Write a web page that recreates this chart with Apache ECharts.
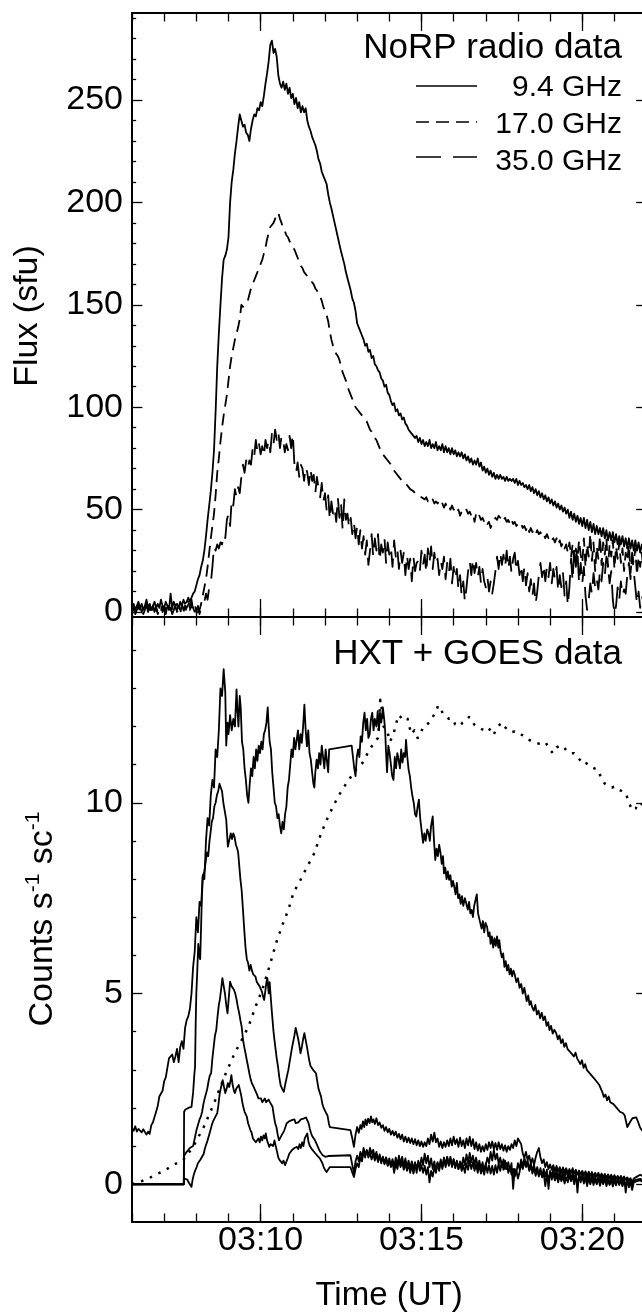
<!DOCTYPE html>
<html><head><meta charset="utf-8">
<script src="https://cdn.jsdelivr.net/npm/echarts@6/dist/echarts.min.js"></script>
<style>html,body{margin:0;padding:0;background:#fff}#c{width:642px;height:1315px}</style>
</head><body><div id="c"></div><script>
// ---------------- DATA (time in minutes after 03:00 UT) ----------------
const xTickMinutes = [10, 15, 20];
const xMinorMinutes = [6,7,8,9,10,11,12,13,14,15,16,17,18,19,20,21,22];
const fluxTicks = [0, 50, 100, 150, 200, 250];
const fluxMinor = [10,20,30,40,60,70,80,90,110,120,130,140,160,170,180,190,210,220,230,240,260,270,280,290];
const countTicks = [0, 5, 10];
const countMinor = [1,2,3,4,6,7,8,9,11,12,13,14];

const flux94 = [[6.00,2],[6.05,4],[6.10,1],[6.15,3],[6.20,5],[6.25,2],[6.30,4],[6.35,1],[6.40,3],[6.45,6],[6.50,2],[6.55,4],[6.60,1],[6.65,3],[6.70,5],[6.75,2],[6.80,4],[6.85,2],[6.90,6],[6.95,3],[7.00,2],[7.05,5],[7.10,3],[7.15,1],[7.20,9],[7.25,2],[7.30,5],[7.35,3],[7.40,4],[7.45,2],[7.50,5],[7.55,3],[7.60,6],[7.65,4],[7.70,5],[7.75,7],[7.80,5],[7.85,7],[7.90,9],[7.95,10],[8.00,13],[8.05,16],[8.10,18],[8.15,22],[8.20,25],[8.25,30],[8.30,37],[8.35,45],[8.40,52],[8.45,59],[8.50,68],[8.55,79],[8.60,98],[8.65,120],[8.70,136],[8.75,150],[8.80,163],[8.85,172],[8.90,174],[8.95,177],[9.00,183],[9.05,200],[9.10,210],[9.15,216],[9.20,224],[9.25,230],[9.30,237],[9.35,243],[9.40,240],[9.45,237],[9.50,238],[9.55,234],[9.60,233],[9.65,230],[9.70,236],[9.75,240],[9.80,243],[9.85,242],[9.90,246],[9.95,245],[10.00,249],[10.05,247],[10.10,252],[10.15,258],[10.20,263],[10.25,269],[10.30,277],[10.35,279],[10.40,273],[10.45,275],[10.50,271],[10.55,262],[10.60,258],[10.65,256],[10.70,259],[10.75,255],[10.80,258],[10.85,253],[10.90,256],[10.95,251],[11.00,253],[11.05,248],[11.10,251],[11.15,246],[11.20,249],[11.25,244],[11.30,247],[11.35,244],[11.40,246],[11.45,240],[11.50,237],[11.55,235],[11.60,232],[11.65,230],[11.70,228],[11.75,225],[11.80,221],[11.85,219],[11.90,215],[11.95,213],[12.00,211],[12.05,209],[12.10,204],[12.15,200],[12.20,197],[12.30,190],[12.40,183],[12.50,176],[12.60,170],[12.65,166],[12.70,163],[12.75,160],[12.80,157],[12.85,153],[12.90,151],[12.95,147],[13.00,141],[13.05,139],[13.10,137],[13.15,135],[13.20,133],[13.25,130],[13.30,131],[13.35,127],[13.40,128],[13.45,124],[13.50,125],[13.55,121],[13.60,120],[13.65,118],[13.70,117],[13.75,114],[13.80,113],[13.85,110],[13.90,111],[13.95,107],[14.00,106],[14.05,103],[14.10,101],[14.15,102],[14.20,98],[14.25,99],[14.30,96],[14.35,97],[14.40,94],[14.45,95],[14.50,92],[14.55,91],[14.60,89],[14.65,89],[14.70,87],[14.75,86],[14.80,85],[14.85,86],[14.90,83],[14.95,85],[15.00,82],[15.05,84],[15.10,81],[15.15,83],[15.20,81],[15.25,84],[15.30,80],[15.35,82],[15.40,80],[15.45,83],[15.50,79],[15.55,81],[15.60,79],[15.65,82],[15.70,78],[15.75,81],[15.80,78],[15.85,80],[15.90,77],[15.95,80],[16.00,77],[16.05,79],[16.10,76],[16.15,78],[16.20,76],[16.25,78],[16.30,75],[16.35,77],[16.40,74],[16.45,76],[16.50,73],[16.55,75],[16.60,72],[16.65,74],[16.70,72],[16.75,75],[16.80,71],[16.85,73],[16.90,69],[16.95,71],[17.00,68],[17.05,70],[17.10,67],[17.15,69],[17.20,66],[17.25,68],[17.30,65],[17.35,67],[17.40,65],[17.45,67],[17.50,65],[17.55,66],[17.60,64],[17.65,66],[17.70,64],[17.75,65],[17.80,64],[17.85,65],[17.90,63],[17.95,65],[18.00,62],[18.05,64],[18.10,62],[18.15,63],[18.20,61],[18.25,62],[18.30,60],[18.35,62],[18.40,59],[18.45,61],[18.50,58],[18.55,60],[18.60,57],[18.65,59],[18.70,56],[18.75,58],[18.80,55],[18.85,57],[18.90,54],[18.95,56],[19.00,53],[19.05,55],[19.10,52],[19.15,54],[19.20,51],[19.25,53],[19.30,50],[19.35,52],[19.40,49],[19.45,51],[19.50,48],[19.55,50],[19.60,46],[19.65,49],[19.70,45],[19.75,48],[19.80,44],[19.85,47],[19.90,43],[19.95,46],[20.00,42],[20.05,46],[20.10,41],[20.15,45],[20.20,40],[20.25,44],[20.30,39],[20.35,43],[20.40,38],[20.45,42],[20.50,38],[20.55,41],[20.60,37],[20.65,41],[20.70,36],[20.75,40],[20.80,35],[20.85,39],[20.90,35],[20.95,39],[21.00,34],[21.05,38],[21.10,33],[21.15,37],[21.20,33],[21.25,37],[21.30,32],[21.35,36],[21.40,31],[21.45,36],[21.50,31],[21.55,35],[21.60,30],[21.65,35],[21.70,30],[21.75,34],[21.80,29],[21.85,33],[21.90,29],[21.95,32]];

const flux17 = [[6.00,1],[6.05,3],[6.10,0],[6.15,2],[6.20,1],[6.25,3],[6.30,0],[6.35,2],[6.40,1],[6.45,3],[6.50,1],[6.55,2],[6.60,0],[6.65,3],[6.70,1],[6.75,2],[6.80,0],[6.85,2],[6.90,1],[6.95,3],[7.00,1],[7.05,2],[7.10,0],[7.15,3],[7.20,1],[7.25,2],[7.30,0],[7.35,2],[7.40,1],[7.45,3],[7.50,1],[7.55,2],[7.60,0],[7.65,3],[7.70,2],[7.75,4],[7.80,1],[7.85,3],[7.90,2],[7.95,0],[8.00,-2],[8.05,0],[8.10,1],[8.15,4],[8.20,8],[8.25,12],[8.30,16],[8.35,22],[8.40,29],[8.45,36],[8.50,42],[8.55,48],[8.60,57],[8.65,68],[8.70,75],[8.75,83],[8.80,90],[8.85,96],[8.90,101],[8.95,106],[9.00,113],[9.05,120],[9.10,125],[9.15,129],[9.20,133],[9.25,136],[9.30,139],[9.35,143],[9.40,150],[9.45,149],[9.50,150],[9.55,151],[9.60,152],[9.65,155],[9.70,158],[9.75,160],[9.80,162],[9.85,164],[9.90,166],[9.95,167],[10.00,170],[10.05,172],[10.10,175],[10.15,178],[10.20,182],[10.25,185],[10.30,188],[10.35,189],[10.40,190],[10.45,192],[10.50,194],[10.55,195],[10.60,192],[10.65,190],[10.70,187],[10.75,186],[10.80,184],[10.85,183],[10.90,181],[10.95,180],[11.00,178],[11.05,177],[11.10,175],[11.15,173],[11.20,171],[11.25,169],[11.30,168],[11.35,166],[11.40,165],[11.45,164],[11.50,163],[11.55,162],[11.60,161],[11.65,160],[11.70,158],[11.75,157],[11.80,155],[11.85,154],[11.90,152],[11.95,149],[12.00,147],[12.05,145],[12.10,142],[12.15,137],[12.20,133],[12.25,130],[12.30,128],[12.35,126],[12.40,125],[12.45,123],[12.50,120],[12.55,117],[12.60,115],[12.65,113],[12.70,110],[12.75,108],[12.80,106],[12.85,104],[12.90,102],[12.95,100],[13.00,99],[13.05,98],[13.10,97],[13.15,96],[13.20,95],[13.25,94],[13.30,93],[13.35,91],[13.40,89],[13.45,88],[13.50,86],[13.55,85],[13.60,84],[13.65,82],[13.70,80],[13.75,79],[13.80,77],[13.85,76],[13.90,76],[13.95,74],[14.00,73],[14.05,72],[14.10,70],[14.15,69],[14.20,68],[14.25,68],[14.30,66],[14.35,65],[14.40,64],[14.45,63],[14.50,63],[14.55,62],[14.60,61],[14.65,60],[14.70,60],[14.75,59],[14.80,58],[14.85,58],[14.90,57],[14.95,57],[15.00,56],[15.05,56],[15.10,55],[15.15,56],[15.20,54],[15.25,55],[15.30,54],[15.35,55],[15.40,53],[15.45,54],[15.50,53],[15.55,54],[15.60,52],[15.65,53],[15.70,51],[15.75,53],[15.80,51],[15.85,52],[15.90,50],[15.95,52],[16.00,50],[16.05,51],[16.10,49],[16.15,50],[16.20,47],[16.25,49],[16.30,48],[16.35,49],[16.40,50],[16.45,48],[16.50,49],[16.55,47],[16.60,48],[16.65,44],[16.70,48],[16.75,46],[16.80,47],[16.85,45],[16.90,46],[16.95,44],[17.00,45],[17.05,43],[17.10,44],[17.15,41],[17.20,43],[17.25,44],[17.30,46],[17.35,45],[17.40,47],[17.45,46],[17.50,47],[17.55,45],[17.60,46],[17.65,44],[17.70,45],[17.75,43],[17.80,45],[17.85,43],[17.90,44],[17.95,42],[18.00,43],[18.05,42],[18.10,43],[18.15,41],[18.20,42],[18.25,40],[18.30,42],[18.35,39],[18.40,41],[18.45,39],[18.50,40],[18.55,38],[18.60,40],[18.65,38],[18.70,39],[18.75,37],[18.80,38],[18.85,36],[18.90,38],[18.95,36],[19.00,37],[19.05,35],[19.10,36],[19.15,34],[19.20,36],[19.25,33],[19.30,35],[19.35,32],[19.40,34],[19.45,31],[19.50,33],[19.55,29],[19.60,34],[19.65,27],[19.70,33],[19.75,25],[19.80,31],[19.85,26],[19.90,35],[19.95,28],[20.00,24],[20.05,36],[20.10,22],[20.15,33],[20.20,27],[20.25,38],[20.30,25],[20.35,34],[20.40,20],[20.45,32],[20.50,26],[20.55,37],[20.60,23],[20.65,34],[20.70,28],[20.75,36],[20.80,22],[20.85,33],[20.90,27],[20.95,35],[21.00,21],[21.05,32],[21.10,26],[21.15,34],[21.20,24],[21.25,31],[21.30,20],[21.35,29],[21.40,25],[21.45,33],[21.50,19],[21.55,28],[21.60,24],[21.65,31],[21.70,18],[21.75,27],[21.80,22],[21.85,29],[21.90,20]];

const flux35 = [[6.00,0],[6.05,2],[6.10,-1],[6.15,1],[6.20,3],[6.25,0],[6.30,2],[6.35,-1],[6.40,1],[6.45,4],[6.50,0],[6.55,2],[6.60,-1],[6.65,3],[6.70,0],[6.75,2],[6.80,-1],[6.85,1],[6.90,4],[6.95,0],[7.00,2],[7.05,-1],[7.10,3],[7.15,0],[7.20,2],[7.25,-1],[7.30,1],[7.35,3],[7.40,0],[7.45,2],[7.50,-1],[7.55,4],[7.60,1],[7.65,3],[7.70,0],[7.75,5],[7.80,2],[7.85,6],[7.90,1],[7.95,4],[8.00,0],[8.05,3],[8.10,-1],[8.15,2],[8.20,4],[8.25,5],[8.30,9],[8.35,6],[8.40,12],[8.45,14],[8.50,22],[8.55,32],[8.60,30],[8.65,33],[8.70,31],[8.75,34],[8.80,33],[8.85,38],[8.90,36],[8.95,45],[9.00,48],[9.05,42],[9.10,55],[9.15,52],[9.20,60],[9.25,56],[9.30,61],[9.35,58],[9.40,66],[9.45,72],[9.50,68],[9.55,74],[9.60,70],[9.65,74],[9.70,72],[9.75,80],[9.80,76],[9.85,84],[9.90,78],[9.95,82],[10.00,77],[10.05,81],[10.10,76],[10.15,84],[10.20,80],[10.25,84],[10.30,78],[10.35,87],[10.40,82],[10.45,89],[10.50,84],[10.55,88],[10.60,80],[10.65,86],[10.70,84],[10.75,78],[10.80,82],[10.85,79],[10.90,86],[10.95,80],[11.00,87],[11.05,72],[11.10,68],[11.15,73],[11.20,66],[11.25,72],[11.30,70],[11.35,64],[11.40,71],[11.45,68],[11.50,62],[11.55,70],[11.60,64],[11.65,67],[11.70,58],[11.75,66],[11.80,60],[11.85,56],[11.90,63],[11.95,54],[12.00,58],[12.05,50],[12.10,57],[12.15,45],[12.20,54],[12.25,48],[12.30,51],[12.35,44],[12.40,56],[12.45,46],[12.50,53],[12.55,40],[12.60,55],[12.65,45],[12.70,48],[12.75,41],[12.80,46],[12.85,38],[12.90,44],[12.95,36],[13.00,42],[13.05,33],[13.10,40],[13.15,31],[13.20,37],[13.25,28],[13.30,35],[13.35,23],[13.40,30],[13.45,38],[13.50,27],[13.55,36],[13.60,30],[13.65,38],[13.70,25],[13.75,33],[13.80,29],[13.85,36],[13.90,24],[13.95,34],[14.00,28],[14.05,32],[14.10,22],[14.15,35],[14.20,27],[14.25,31],[14.30,21],[14.35,30],[14.40,24],[14.45,29],[14.50,18],[14.55,28],[14.60,21],[14.65,26],[14.70,15],[14.75,27],[14.80,20],[14.85,24],[14.90,25],[14.95,20],[15.00,30],[15.05,23],[15.10,28],[15.15,19],[15.20,31],[15.25,24],[15.30,32],[15.35,21],[15.40,29],[15.45,23],[15.50,26],[15.55,18],[15.60,25],[15.65,21],[15.70,27],[15.75,16],[15.80,24],[15.85,19],[15.90,26],[15.95,14],[16.00,22],[16.05,16],[16.10,21],[16.15,11],[16.20,18],[16.25,8],[16.30,15],[16.35,5],[16.40,12],[16.45,20],[16.50,25],[16.55,18],[16.60,26],[16.65,19],[16.70,24],[16.75,17],[16.80,22],[16.85,14],[16.90,21],[16.95,15],[17.00,12],[17.05,17],[17.10,10],[17.15,15],[17.20,9],[17.25,14],[17.30,20],[17.35,27],[17.40,21],[17.45,29],[17.50,23],[17.55,28],[17.60,22],[17.65,30],[17.70,21],[17.75,27],[17.80,19],[17.85,26],[17.90,29],[17.95,20],[18.00,25],[18.05,18],[18.10,23],[18.15,15],[18.20,22],[18.25,13],[18.30,19],[18.35,10],[18.40,16],[18.45,8],[18.50,14],[18.55,4],[18.60,10],[18.65,18],[18.70,24],[18.75,17],[18.80,23],[18.85,15],[18.90,22],[18.95,17],[19.00,24],[19.05,14],[19.10,21],[19.15,16],[19.20,22],[19.25,10],[19.30,18],[19.35,12],[19.40,19],[19.45,8],[19.50,15],[19.55,3],[19.60,12],[19.65,26],[19.70,15],[19.75,32],[19.80,22],[19.85,30],[19.90,14],[19.95,24],[20.00,14],[20.05,22],[20.10,8],[20.15,1],[20.20,6],[20.25,14],[20.30,9],[20.35,19],[20.40,12],[20.45,16],[20.50,11],[20.55,20],[20.60,15],[20.65,24],[20.70,18],[20.75,27],[20.80,22],[20.85,14],[20.90,20],[20.95,6],[21.00,-1],[21.05,3],[21.10,12],[21.15,6],[21.20,15],[21.25,8],[21.30,11],[21.35,9],[21.40,18],[21.45,24],[21.50,16],[21.55,29],[21.60,20],[21.65,12],[21.70,4],[21.75,10],[21.80,2],[21.85,8],[21.90,5]];

const hxtA = [[6.00,1.47],[6.05,1.40],[6.10,1.52],[6.15,1.38],[6.20,1.45],[6.25,1.50],[6.30,1.36],[6.35,1.44],[6.40,1.40],[6.45,1.30],[6.50,1.38],[6.55,1.32],[6.60,1.55],[6.65,1.62],[6.70,1.76],[6.75,1.90],[6.80,2.05],[6.85,2.30],[6.90,2.25],[6.95,2.45],[7.00,2.70],[7.05,2.80],[7.10,3.05],[7.15,3.30],[7.20,3.25],[7.25,3.40],[7.30,3.20],[7.35,3.35],[7.40,3.55],[7.45,3.20],[7.50,3.60],[7.55,3.75],[7.60,3.55],[7.65,4.10],[7.70,4.30],[7.75,4.40],[7.80,4.60],[7.85,5.00],[7.90,5.70],[7.95,6.10],[8.00,7.00],[8.05,6.60],[8.10,7.40],[8.15,7.30],[8.20,8.10],[8.25,8.00],[8.30,9.00],[8.35,9.60],[8.40,9.40],[8.45,10.20],[8.50,10.60],[8.55,10.40],[8.60,11.40],[8.65,11.20],[8.70,11.90],[8.75,13.00],[8.80,12.80],[8.85,13.50],[8.90,12.90],[8.93,11.50],[8.97,12.10],[9.00,11.80],[9.05,12.30],[9.10,11.90],[9.15,12.20],[9.20,12.00],[9.25,12.97],[9.28,12.40],[9.31,12.00],[9.35,12.80],[9.38,12.50],[9.42,11.60],[9.46,11.40],[9.50,10.90],[9.54,10.60],[9.58,10.20],[9.62,10.00],[9.66,10.50],[9.70,10.90],[9.74,10.70],[9.78,11.20],[9.82,10.90],[9.86,11.40],[9.90,11.10],[9.94,11.50],[9.98,11.30],[10.02,11.60],[10.06,11.40],[10.10,11.80],[10.14,11.90],[10.18,12.10],[10.22,12.50],[10.25,12.00],[10.28,11.60],[10.32,11.40],[10.36,10.80],[10.40,10.40],[10.44,10.00],[10.48,9.90],[10.52,9.60],[10.56,9.70],[10.60,9.40],[10.64,9.20],[10.68,9.50],[10.72,9.30],[10.76,9.70],[10.80,9.90],[10.84,10.40],[10.88,10.60],[10.92,11.00],[10.96,11.40],[11.00,11.20],[11.04,11.70],[11.08,11.40],[11.12,11.65],[11.16,11.90],[11.20,11.40],[11.24,11.80],[11.28,11.57],[11.32,12.00],[11.36,12.57],[11.40,11.90],[11.44,11.48],[11.48,11.90],[11.52,11.30],[11.56,11.13],[11.60,10.80],[11.64,10.50],[11.67,10.40],[11.70,10.80],[11.74,11.13],[11.78,10.90],[11.82,11.30],[11.86,11.00],[11.90,11.50],[11.94,11.20],[11.98,10.90],[12.02,11.40],[12.06,11.10],[12.10,10.80],[12.13,11.40],[12.17,11.40],[12.83,11.50],[12.87,11.20],[12.91,10.90],[12.95,10.70],[12.99,11.20],[13.03,11.40],[13.07,11.20],[13.11,11.74],[13.15,11.60],[13.19,12.10],[13.23,12.36],[13.27,11.90],[13.31,12.20],[13.35,11.70],[13.39,11.80],[13.43,12.20],[13.47,12.36],[13.51,11.90],[13.55,12.20],[13.60,12.00],[13.64,12.40],[13.68,11.90],[13.71,12.36],[13.75,12.10],[13.80,12.50],[13.84,12.20],[13.87,11.90],[13.90,11.30],[13.93,10.80],[13.97,11.50],[14.01,11.30],[14.05,11.00],[14.09,10.70],[14.13,10.60],[14.17,11.20],[14.21,10.90],[14.25,11.30],[14.29,11.13],[14.33,10.90],[14.37,11.40],[14.41,11.05],[14.45,11.30],[14.49,11.20],[14.52,11.65],[14.56,11.20],[14.60,10.87],[14.64,10.70],[14.68,10.40],[14.72,10.17],[14.76,10.00],[14.80,9.70],[14.84,9.64],[14.88,9.90],[14.92,10.08],[14.96,9.60],[15.00,9.30],[15.05,8.95],[15.09,9.20],[15.13,9.00],[15.18,9.30],[15.22,9.20],[15.26,9.00],[15.30,9.40],[15.35,9.64],[15.39,9.00],[15.43,8.50],[15.47,8.80],[15.51,8.60],[15.55,8.90],[15.59,8.70],[15.63,8.40],[15.67,8.60],[15.70,8.15],[15.74,8.30],[15.78,8.00],[15.82,8.20],[15.86,7.98],[15.90,8.10],[15.94,7.80],[15.98,7.95],[16.02,7.80],[16.06,7.60],[16.10,7.90],[16.14,7.50],[16.18,7.60],[16.22,7.35],[16.26,7.55],[16.30,7.30],[16.35,7.50],[16.40,7.45],[16.44,7.20],[16.48,7.40],[16.52,7.10],[16.56,7.19],[16.60,7.00],[16.64,7.30],[16.68,7.45],[16.72,7.60],[16.76,7.10],[16.80,6.95],[16.83,6.93],[16.87,6.70],[16.91,6.90],[16.95,6.60],[16.99,6.85],[17.04,6.75],[17.08,6.50],[17.12,6.60],[17.15,6.30],[17.19,6.50],[17.23,6.20],[17.27,6.45],[17.31,6.25],[17.35,6.50],[17.39,6.20],[17.42,6.40],[17.46,6.10],[17.50,5.95],[17.54,6.05],[17.58,5.70],[17.62,5.85],[17.66,5.60],[17.70,5.75],[17.74,5.50],[17.78,5.65],[17.82,5.45],[17.86,5.60],[17.90,5.50],[17.95,5.30],[18.00,5.40],[18.05,5.15],[18.10,5.25],[18.15,5.00],[18.20,5.15],[18.23,5.00],[18.27,4.80],[18.32,4.95],[18.36,4.70],[18.40,4.80],[18.44,4.65],[18.49,4.55],[18.54,4.70],[18.59,4.45],[18.64,4.55],[18.69,4.35],[18.74,4.50],[18.79,4.30],[18.84,4.40],[18.89,4.15],[18.94,4.25],[18.98,4.04],[19.03,4.15],[19.08,3.95],[19.13,4.05],[19.19,3.96],[19.24,3.80],[19.29,3.90],[19.34,3.70],[19.39,3.80],[19.44,3.60],[19.49,3.70],[19.54,3.55],[19.59,3.60],[19.64,3.45],[19.69,3.50],[19.74,3.35],[19.79,3.45],[19.84,3.30],[19.89,3.35],[19.94,3.15],[19.99,3.25],[20.04,3.05],[20.09,3.15],[20.14,3.00],[20.19,3.05],[20.24,2.90],[20.29,2.95],[20.34,2.80],[20.39,2.85],[20.44,2.70],[20.48,2.73],[20.53,2.60],[20.58,2.50],[20.63,2.40],[20.67,2.29],[20.72,2.35],[20.77,2.20],[20.82,2.30],[20.87,2.15],[20.92,2.20],[20.97,2.10],[21.02,2.12],[21.07,2.00],[21.12,2.05],[21.17,1.90],[21.22,1.95],[21.27,1.86],[21.32,1.80],[21.36,1.65],[21.40,1.50],[21.45,1.55],[21.50,1.65],[21.56,1.73],[21.62,1.77],[21.68,1.75],[21.75,1.60],[21.80,1.48],[21.85,1.42],[21.90,1.40],[21.95,1.38]];

const hxtB = [[6.00,0],[7.61,0],[7.62,1.90],[7.66,1.96],[7.70,1.92],[7.75,2.00],[7.80,1.98],[7.85,2.03],[7.90,2.40],[7.94,2.90],[7.96,3.08],[7.98,4.20],[8.00,5.00],[8.03,5.60],[8.06,6.30],[8.09,6.00],[8.12,5.90],[8.15,6.80],[8.17,7.45],[8.20,8.07],[8.25,8.20],[8.30,8.50],[8.33,8.70],[8.37,8.60],[8.41,9.00],[8.44,9.20],[8.48,9.50],[8.52,9.60],[8.56,9.90],[8.60,10.00],[8.64,10.20],[8.68,10.30],[8.72,10.50],[8.76,10.50],[8.80,10.30],[8.84,10.00],[8.88,9.80],[8.93,9.55],[8.98,8.85],[9.02,9.00],[9.07,9.20],[9.11,9.05],[9.15,9.20],[9.19,9.10],[9.23,8.90],[9.27,8.80],[9.30,8.70],[9.34,8.30],[9.37,8.00],[9.41,7.70],[9.45,7.20],[9.49,6.67],[9.53,6.20],[9.57,5.90],[9.61,5.80],[9.65,5.60],[9.69,5.75],[9.73,5.60],[9.77,5.50],[9.81,5.55],[9.84,5.44],[9.88,5.30],[9.92,5.35],[9.96,5.20],[10.00,5.18],[10.04,5.05],[10.08,4.90],[10.11,4.83],[10.15,5.10],[10.18,5.30],[10.21,5.40],[10.25,5.00],[10.28,5.30],[10.32,4.83],[10.36,4.40],[10.40,4.00],[10.43,3.78],[10.47,3.50],[10.50,3.30],[10.54,3.08],[10.58,2.80],[10.62,2.60],[10.67,2.50],[10.72,2.42],[10.76,2.60],[10.81,2.80],[10.86,2.99],[10.90,3.20],[10.94,3.40],[10.98,3.60],[11.02,3.60],[11.05,3.90],[11.09,4.10],[11.13,4.13],[11.17,3.80],[11.21,3.60],[11.24,3.43],[11.28,3.60],[11.32,3.80],[11.36,3.96],[11.40,3.96],[11.44,3.60],[11.48,3.40],[11.51,3.25],[11.55,3.10],[11.59,3.15],[11.63,3.00],[11.67,2.95],[11.72,2.91],[11.76,2.70],[11.80,2.50],[11.84,2.40],[11.88,2.29],[11.92,2.10],[11.96,2.00],[12.00,1.95],[12.04,1.86],[12.08,1.80],[12.12,1.60],[12.15,1.50],[12.79,1.42],[12.85,1.20],[12.90,0.98],[12.95,1.30],[13.00,1.50],[13.05,1.35],[13.10,1.55],[13.14,1.45],[13.18,1.65],[13.22,1.50],[13.26,1.70],[13.30,1.55],[13.34,1.72],[13.39,1.60],[13.43,1.78],[13.47,1.62],[13.51,1.70],[13.55,1.58],[13.60,1.73],[13.65,1.55],[13.70,1.62],[13.75,1.48],[13.80,1.55],[13.85,1.40],[13.90,1.50],[13.95,1.36],[14.00,1.45],[14.05,1.30],[14.10,1.40],[14.15,1.28],[14.20,1.38],[14.25,1.22],[14.30,1.32],[14.35,1.18],[14.40,1.30],[14.45,1.12],[14.50,1.25],[14.55,1.10],[14.60,1.22],[14.65,1.08],[14.70,1.20],[14.75,1.05],[14.80,1.18],[14.85,1.02],[14.90,1.15],[14.95,1.00],[15.00,1.12],[15.05,0.98],[15.10,1.10],[15.15,1.00],[15.20,1.20],[15.25,1.05],[15.30,1.30],[15.35,1.12],[15.40,1.35],[15.45,1.10],[15.50,1.20],[15.55,0.98],[15.60,1.12],[15.65,0.95],[15.70,1.10],[15.75,0.98],[15.80,1.15],[15.85,1.00],[15.90,1.20],[15.95,1.02],[16.00,1.25],[16.05,1.05],[16.10,1.18],[16.15,0.98],[16.20,1.22],[16.25,1.00],[16.30,1.15],[16.35,0.95],[16.40,1.20],[16.45,1.02],[16.50,1.25],[16.55,1.00],[16.60,1.18],[16.65,0.92],[16.70,1.10],[16.75,0.88],[16.80,1.05],[16.85,0.85],[16.90,1.00],[16.95,0.86],[17.00,1.05],[17.05,0.90],[17.10,1.10],[17.15,0.95],[17.20,1.12],[17.25,0.92],[17.30,1.08],[17.35,0.90],[17.40,1.10],[17.45,0.92],[17.50,1.05],[17.55,0.88],[17.60,1.02],[17.65,0.85],[17.70,1.00],[17.75,0.90],[17.80,1.05],[17.85,0.95],[17.90,1.15],[17.95,1.00],[18.00,1.20],[18.05,1.24],[18.10,1.05],[18.15,0.80],[18.20,0.70],[18.25,0.85],[18.30,0.63],[18.35,0.75],[18.40,0.55],[18.45,0.68],[18.50,0.50],[18.55,0.70],[18.60,0.85],[18.65,0.95],[18.70,0.70],[18.75,0.55],[18.80,0.65],[18.85,0.45],[18.90,0.58],[18.95,0.40],[19.00,0.52],[19.05,0.38],[19.10,0.50],[19.15,0.35],[19.20,0.48],[19.25,0.33],[19.30,0.45],[19.35,0.30],[19.40,0.44],[19.45,0.32],[19.50,0.42],[19.55,0.28],[19.60,0.40],[19.65,0.30],[19.70,0.42],[19.75,0.28],[19.80,0.38],[19.85,0.25],[19.90,0.36],[19.95,0.26],[20.00,0.35],[20.05,0.24],[20.10,0.34],[20.15,0.22],[20.20,0.33],[20.25,0.22],[20.30,0.32],[20.35,0.20],[20.40,0.30],[20.45,0.21],[20.50,0.30],[20.55,0.19],[20.60,0.28],[20.65,0.18],[20.70,0.27],[20.75,0.17],[20.80,0.26],[20.85,0.16],[20.90,0.25],[20.95,0.15],[21.00,0.24],[21.05,0.15],[21.10,0.22],[21.15,0.14],[21.20,0.22],[21.25,0.13],[21.30,0.20],[21.35,0.12],[21.40,0.18],[21.45,0.10],[21.50,0.16],[21.55,0.05],[21.60,0.15],[21.65,0.12],[21.70,0.20],[21.75,0.18],[21.80,0.25],[21.85,0.22],[21.90,0.20]];

const hxtC = [[6.00,0],[7.61,0],[7.62,0.75],[7.66,0.80],[7.70,0.85],[7.75,0.90],[7.80,0.95],[7.85,0.98],[7.90,1.00],[7.95,1.20],[8.00,1.40],[8.05,1.55],[8.10,1.70],[8.14,1.77],[8.18,1.90],[8.22,2.10],[8.26,2.25],[8.30,2.29],[8.34,2.50],[8.38,2.70],[8.42,2.85],[8.46,2.91],[8.50,3.30],[8.54,3.60],[8.58,3.90],[8.62,4.04],[8.66,4.40],[8.70,4.70],[8.73,4.83],[8.77,5.10],[8.81,5.40],[8.85,5.20],[8.89,5.00],[8.93,4.70],[8.97,4.48],[9.01,4.90],[9.05,5.31],[9.09,5.20],[9.13,5.25],[9.17,5.10],[9.21,5.00],[9.25,4.85],[9.29,4.65],[9.33,4.50],[9.37,4.30],[9.41,4.13],[9.45,3.80],[9.49,3.60],[9.53,3.43],[9.57,3.25],[9.61,3.08],[9.65,2.90],[9.69,2.75],[9.73,2.64],[9.77,2.58],[9.81,2.50],[9.85,2.47],[9.89,2.35],[9.93,2.25],[9.97,2.20],[10.01,2.25],[10.05,2.15],[10.09,2.20],[10.13,2.25],[10.17,2.15],[10.21,2.20],[10.25,2.22],[10.29,2.15],[10.33,2.10],[10.37,2.03],[10.41,1.80],[10.45,1.60],[10.49,1.50],[10.53,1.30],[10.57,1.15],[10.61,1.20],[10.65,1.28],[10.69,1.33],[10.73,1.40],[10.77,1.50],[10.81,1.60],[10.85,1.55],[10.89,1.65],[10.93,1.60],[10.97,1.68],[11.01,1.65],[11.05,1.70],[11.09,1.60],[11.13,1.55],[11.17,1.62],[11.21,1.58],[11.25,1.70],[11.29,1.65],[11.33,1.72],[11.37,1.68],[11.41,1.75],[11.45,1.77],[11.49,1.60],[11.53,1.45],[11.57,1.33],[11.61,1.25],[11.65,1.20],[11.69,1.15],[11.73,1.10],[11.77,1.00],[11.81,0.92],[11.85,0.85],[11.89,0.80],[11.93,0.76],[11.97,0.73],[12.01,0.72],[12.05,0.70],[12.10,0.74],[12.15,0.76],[12.79,0.76],[12.85,0.50],[12.90,0.29],[12.95,0.60],[13.00,0.75],[13.05,0.60],[13.10,0.85],[13.15,0.70],[13.20,0.95],[13.25,0.78],[13.30,0.88],[13.35,0.70],[13.40,0.82],[13.45,0.65],[13.50,0.80],[13.55,0.62],[13.60,0.78],[13.65,0.58],[13.70,0.75],[13.75,0.55],[13.80,0.72],[13.85,0.52],[13.90,0.70],[13.95,0.50],[14.00,0.68],[14.05,0.48],[14.10,0.66],[14.15,0.46],[14.20,0.70],[14.25,0.50],[14.30,0.75],[14.35,0.52],[14.40,0.72],[14.45,0.48],[14.50,0.68],[14.55,0.45],[14.60,0.62],[14.65,0.42],[14.70,0.60],[14.75,0.40],[14.80,0.58],[14.85,0.30],[14.90,0.62],[14.95,0.44],[15.00,0.70],[15.05,0.50],[15.10,0.80],[15.15,0.55],[15.20,0.75],[15.25,0.45],[15.30,0.68],[15.35,0.40],[15.40,0.60],[15.45,0.35],[15.50,0.58],[15.55,0.42],[15.60,0.65],[15.65,0.45],[15.70,0.70],[15.75,0.50],[15.80,0.72],[15.85,0.48],[15.90,0.68],[15.95,0.45],[16.00,0.66],[16.05,0.42],[16.10,0.62],[16.15,0.40],[16.20,0.60],[16.25,0.45],[16.30,0.70],[16.35,0.50],[16.40,0.78],[16.45,0.55],[16.50,0.82],[16.55,0.58],[16.60,0.75],[16.65,0.50],[16.70,0.70],[16.75,0.45],[16.80,0.62],[16.85,0.40],[16.90,0.58],[16.95,0.35],[17.00,0.55],[17.05,0.30],[17.10,0.50],[17.15,0.28],[17.20,0.48],[17.25,0.25],[17.30,0.50],[17.35,0.30],[17.40,0.55],[17.45,0.35],[17.50,0.60],[17.55,0.38],[17.60,0.62],[17.65,0.40],[17.70,0.58],[17.75,0.35],[17.80,0.55],[17.85,-0.12],[17.90,0.40],[17.95,0.30],[18.00,0.55],[18.05,0.40],[18.10,0.65],[18.15,0.45],[18.20,0.70],[18.25,0.50],[18.30,0.62],[18.35,0.40],[18.40,0.55],[18.45,0.35],[18.50,0.50],[18.55,0.30],[18.60,0.45],[18.65,0.25],[18.70,0.42],[18.75,0.22],[18.80,0.40],[18.85,0.20],[18.90,0.38],[18.95,-0.12],[19.00,0.35],[19.05,0.20],[19.10,0.40],[19.15,0.18],[19.20,0.38],[19.25,0.15],[19.30,0.35],[19.35,0.12],[19.40,0.34],[19.45,0.15],[19.50,0.40],[19.55,0.18],[19.60,0.36],[19.65,0.10],[19.70,0.32],[19.75,0.12],[19.80,0.30],[19.85,-0.22],[19.90,0.28],[19.95,0.10],[20.00,0.30],[20.05,0.06],[20.10,0.26],[20.15,0.08],[20.20,0.28],[20.25,0.05],[20.30,0.25],[20.35,0.05],[20.40,0.24],[20.45,0.02],[20.50,0.22],[20.55,0.04],[20.60,0.25],[20.65,0.06],[20.70,0.22],[20.75,0.02],[20.80,0.20],[20.85,0.00],[20.90,0.18],[20.95,0.03],[21.00,0.20],[21.05,0.00],[21.10,0.16],[21.15,-0.02],[21.20,0.18],[21.25,0.02],[21.30,0.20],[21.35,-0.22],[21.40,0.14],[21.45,-0.05],[21.50,0.12],[21.55,-0.08],[21.60,0.10],[21.65,0.05],[21.70,0.12],[21.75,0.10],[21.80,0.14],[21.85,0.12],[21.90,0.10]];

const hxtD = [[6.00,0],[7.61,0],[7.63,0.15],[7.68,0.10],[7.72,0.12],[7.76,0.05],[7.80,0.00],[7.85,-0.07],[7.88,0.10],[7.92,0.25],[7.96,0.35],[8.01,0.45],[8.05,0.55],[8.09,0.50],[8.13,0.65],[8.18,0.70],[8.23,0.80],[8.27,0.95],[8.31,1.05],[8.35,1.15],[8.40,1.30],[8.44,1.42],[8.48,1.55],[8.52,1.65],[8.56,1.70],[8.61,1.80],[8.65,1.86],[8.69,2.10],[8.73,2.40],[8.77,2.55],[8.82,2.73],[8.86,2.55],[8.90,2.39],[8.94,2.50],[8.98,2.65],[9.02,2.55],[9.06,2.70],[9.09,2.86],[9.13,2.60],[9.17,2.45],[9.20,2.39],[9.24,2.50],[9.28,2.45],[9.32,2.60],[9.35,2.55],[9.39,2.35],[9.43,2.15],[9.46,2.03],[9.50,1.90],[9.54,1.85],[9.57,1.77],[9.61,1.60],[9.65,1.50],[9.68,1.42],[9.72,1.35],[9.76,1.20],[9.80,1.15],[9.85,1.10],[9.89,1.07],[9.93,1.20],[9.97,1.10],[10.01,1.25],[10.05,1.15],[10.09,1.28],[10.13,1.20],[10.16,1.33],[10.20,1.15],[10.24,1.05],[10.27,0.98],[10.31,1.05],[10.35,1.10],[10.39,1.00],[10.43,1.15],[10.47,1.00],[10.51,0.85],[10.55,0.70],[10.59,0.63],[10.63,0.60],[10.67,0.55],[10.71,0.62],[10.76,0.50],[10.81,0.55],[10.85,0.70],[10.89,0.80],[10.93,0.75],[10.97,0.89],[11.01,0.85],[11.05,0.95],[11.09,0.90],[11.13,0.98],[11.17,0.92],[11.21,1.05],[11.25,0.95],[11.29,1.10],[11.33,1.00],[11.37,1.20],[11.41,1.15],[11.45,1.33],[11.49,1.10],[11.53,1.00],[11.57,0.95],[11.61,0.90],[11.65,0.85],[11.69,0.82],[11.72,0.80],[11.76,0.75],[11.80,0.70],[11.84,0.68],[11.88,0.63],[11.92,0.55],[11.96,0.45],[12.00,0.38],[12.05,0.32],[12.10,0.29],[12.15,0.45],[12.79,0.45],[12.85,0.30],[12.90,0.19],[12.95,0.40],[13.00,0.55],[13.05,0.45],[13.10,0.70],[13.15,0.60],[13.20,0.85],[13.25,0.70],[13.30,0.90],[13.35,0.75],[13.40,0.95],[13.45,0.80],[13.50,0.90],[13.55,0.70],[13.60,0.85],[13.65,0.62],[13.70,0.78],[13.75,0.58],[13.80,0.72],[13.85,0.55],[13.90,0.70],[13.95,0.48],[14.00,0.62],[14.05,0.45],[14.10,0.60],[14.15,0.30],[14.20,0.55],[14.25,0.40],[14.30,0.62],[14.35,0.45],[14.40,0.58],[14.45,0.38],[14.50,0.55],[14.55,0.35],[14.60,0.52],[14.65,0.30],[14.70,0.50],[14.75,0.28],[14.80,0.45],[14.85,0.40],[14.90,0.55],[14.95,0.35],[15.00,0.50],[15.05,0.30],[15.10,0.48],[15.15,0.25],[15.20,0.45],[15.25,0.05],[15.30,0.35],[15.35,0.20],[15.40,0.45],[15.45,0.30],[15.50,0.55],[15.55,0.35],[15.60,0.60],[15.65,0.40],[15.70,0.68],[15.75,0.45],[15.80,0.70],[15.85,0.50],[15.90,0.72],[15.95,0.48],[16.00,0.65],[16.05,0.45],[16.10,0.60],[16.15,0.40],[16.20,0.55],[16.25,0.35],[16.30,0.50],[16.35,0.30],[16.40,0.55],[16.45,0.38],[16.50,0.62],[16.55,0.40],[16.60,0.58],[16.65,0.35],[16.70,0.52],[16.75,0.30],[16.80,0.50],[16.85,0.28],[16.90,0.45],[16.95,0.25],[17.00,0.50],[17.05,0.70],[17.10,0.55],[17.15,0.85],[17.20,0.62],[17.25,0.90],[17.30,0.65],[17.35,0.80],[17.40,0.55],[17.45,0.70],[17.50,0.45],[17.55,0.65],[17.60,0.40],[17.65,0.55],[17.70,0.30],[17.75,0.45],[17.80,0.25],[17.85,0.40],[17.90,0.20],[17.95,0.35],[18.00,0.15],[18.05,0.32],[18.10,0.55],[18.15,0.40],[18.20,0.60],[18.25,0.45],[18.30,0.55],[18.35,0.35],[18.40,0.48],[18.45,0.28],[18.50,0.42],[18.55,0.22],[18.60,0.38],[18.65,0.20],[18.70,0.35],[18.75,0.18],[18.80,0.30],[18.85,-0.05],[18.90,0.25],[18.95,0.15],[19.00,0.30],[19.05,0.12],[19.10,0.28],[19.15,0.10],[19.20,0.25],[19.25,0.05],[19.30,0.22],[19.35,0.08],[19.40,0.20],[19.45,0.02],[19.50,0.18],[19.55,0.05],[19.60,0.24],[19.65,0.08],[19.70,0.22],[19.75,0.00],[19.80,0.18],[19.85,0.03],[19.90,0.20],[19.95,0.05],[20.00,0.22],[20.05,0.02],[20.10,0.18],[20.15,-0.05],[20.20,0.16],[20.25,0.00],[20.30,0.15],[20.35,-0.02],[20.40,0.14],[20.45,0.00],[20.50,0.16],[20.55,-0.04],[20.60,0.12],[20.65,0.00],[20.70,0.14],[20.75,-0.05],[20.80,0.10],[20.85,-0.02],[20.90,0.12],[20.95,-0.06],[21.00,0.10],[21.05,-0.03],[21.10,0.12],[21.15,0.00],[21.20,0.10],[21.25,-0.05],[21.30,0.08],[21.35,-0.02],[21.40,0.10],[21.45,-0.08],[21.50,0.06],[21.55,-0.15],[21.60,0.05],[21.65,0.02],[21.70,0.08],[21.75,0.04],[21.80,0.10],[21.85,0.06],[21.90,0.05]];

const goes = [[6.00,0.00],[6.24,0.06],[6.51,0.15],[6.71,0.24],[7.04,0.37],[7.26,0.50],[7.58,0.62],[7.90,0.98],[8.23,1.50],[8.55,2.12],[8.87,2.82],[9.19,3.43],[9.41,3.78],[9.62,4.13],[9.84,4.65],[10.05,5.10],[10.27,5.70],[10.48,6.32],[10.70,6.85],[10.86,7.19],[11.02,7.64],[11.24,7.98],[11.45,8.33],[11.67,8.68],[11.88,9.20],[12.10,9.64],[12.31,10.00],[12.53,10.34],[12.74,10.60],[12.96,10.87],[13.17,11.05],[13.39,11.40],[13.55,11.60],[13.65,11.70],[13.72,12.70],[13.76,12.50],[13.82,12.00],[13.93,11.90],[14.02,11.60],[14.14,11.83],[14.22,12.10],[14.30,12.30],[14.40,12.20],[14.50,12.25],[14.57,12.20],[14.68,11.80],[14.78,11.90],[14.88,11.70],[14.95,11.74],[15.05,12.00],[15.15,12.05],[15.25,12.10],[15.32,12.20],[15.45,12.40],[15.52,12.55],[15.59,12.48],[15.66,12.35],[15.75,12.30],[15.85,12.20],[15.97,12.20],[16.05,12.05],[16.18,12.00],[16.28,12.10],[16.38,12.15],[16.48,12.25],[16.56,12.20],[16.64,12.05],[16.72,12.00],[16.83,11.95],[16.94,11.90],[17.05,11.85],[17.15,11.95],[17.25,11.80],[17.35,11.95],[17.48,12.10],[17.58,12.00],[17.69,11.90],[17.80,11.85],[17.90,11.87],[18.00,11.80],[18.12,11.78],[18.23,11.74],[18.35,11.65],[18.45,11.60],[18.55,11.57],[18.65,11.55],[18.78,11.60],[18.87,11.57],[18.98,11.40],[19.09,11.30],[19.20,11.45],[19.31,11.50],[19.41,11.48],[19.52,11.35],[19.63,11.30],[19.74,11.30],[19.85,11.20],[19.95,11.10],[20.05,11.13],[20.16,11.00],[20.27,10.95],[20.38,10.90],[20.48,10.87],[20.59,10.65],[20.70,10.50],[20.81,10.45],[20.92,10.40],[21.02,10.43],[21.13,10.35],[21.24,10.30],[21.35,10.26],[21.45,10.00],[21.56,9.80],[21.66,9.85],[21.76,10.00],[21.86,9.95]];

// ---------------- CHART ----------------
const FONT = '"Liberation Sans", Arial, Helvetica, sans-serif';
const BLACK = '#000';
const GL = 132, GW = 514.6;
const TICK_FS = 34;

function xAx(grid, pos, ticks, len, showLine, labels) {
  return {
    type: 'value', gridIndex: grid, position: pos, min: 6, max: 22,
    axisLine: { show: showLine, onZero: false, lineStyle: { color: BLACK, width: 2 } },
    axisTick: { show: true, inside: true, length: len, customValues: ticks, lineStyle: { color: BLACK, width: 1.3 } },
    axisLabel: labels ? {
      show: true, customValues: xTickMinutes, margin: 2,
      formatter: v => '03:' + String(Math.round(v)).padStart(2, '0'),
      fontSize: TICK_FS, color: BLACK, fontFamily: FONT
    } : { show: false },
    splitLine: { show: false }
  };
}
function yAx(grid, pos, min, max, ticks, len, showLine, labels) {
  return {
    type: 'value', gridIndex: grid, position: pos, min: min, max: max,
    axisLine: { show: showLine, onZero: false, lineStyle: { color: BLACK, width: 2 } },
    axisTick: { show: true, inside: true, length: len, customValues: ticks, lineStyle: { color: BLACK, width: 1.3 } },
    axisLabel: labels ? { show: true, customValues: labels, margin: 9, fontSize: TICK_FS, color: BLACK, fontFamily: FONT } : { show: false },
    splitLine: { show: false }
  };
}
const F_MIN = -2.44, F_MAX = 292.5, C_MIN = -0.99, C_MAX = 14.87;

function ser(data, xi, yi, type, width) {
  return {
    type: 'line', data: data, xAxisIndex: xi, yAxisIndex: yi,
    showSymbol: false, symbol: 'none', animation: false, clip: true,
    lineStyle: { color: BLACK, width: width || 1.8, type: type || 'solid', cap: 'butt', join: 'round' }
  };
}

const option = {
  animation: false,
  backgroundColor: '#fff',
  grid: [
    { left: GL, top: 13, width: GW, height: 604, outerBoundsMode: 'none', containLabel: false },
    { left: GL, top: 617, width: GW, height: 605, outerBoundsMode: 'none', containLabel: false }
  ],
  xAxis: [
    xAx(0, 'bottom', xMinorMinutes, 8.5, true, false),
    xAx(0, 'bottom', xTickMinutes, 18, false, false),
    xAx(0, 'top', xMinorMinutes, 8.5, true, false),
    xAx(0, 'top', xTickMinutes, 18, false, false),
    xAx(1, 'bottom', xMinorMinutes, 8.5, true, true),
    xAx(1, 'bottom', xTickMinutes, 18, false, false),
    xAx(1, 'top', xMinorMinutes, 8.5, true, false),
    xAx(1, 'top', xTickMinutes, 18, false, false)
  ],
  yAxis: [
    yAx(0, 'left', F_MIN, F_MAX, fluxTicks, 10.4, true, fluxTicks),
    yAx(0, 'left', F_MIN, F_MAX, fluxMinor, 4.2, false, null),
    yAx(0, 'right', F_MIN, F_MAX, fluxTicks, 10.4, true, null),
    yAx(0, 'right', F_MIN, F_MAX, fluxMinor, 4.2, false, null),
    yAx(1, 'left', C_MIN, C_MAX, countTicks, 10.4, true, countTicks),
    yAx(1, 'left', C_MIN, C_MAX, countMinor, 4.2, false, null),
    yAx(1, 'right', C_MIN, C_MAX, countTicks, 10.4, true, null),
    yAx(1, 'right', C_MIN, C_MAX, countMinor, 4.2, false, null)
  ],
  series: [
    ser(flux94, 0, 0, 'solid', 1.8),
    ser(flux17, 0, 0, [12, 7], 1.8),
    ser(flux35, 0, 0, [24, 11], 1.8),
    ser(hxtA, 4, 4, 'solid', 1.8),
    ser(hxtB, 4, 4, 'solid', 1.8),
    ser(hxtC, 4, 4, 'solid', 1.8),
    ser(hxtD, 4, 4, 'solid', 1.8),
    ser(goes, 4, 4, [2.5, 7], 2.5)
  ],
  graphic: [
    { type: 'text', x: 622, y: 48, style: { text: 'NoRP radio data', font: '35px ' + FONT, fill: BLACK, align: 'right', verticalAlign: 'middle' } },
    { type: 'line', shape: { x1: 416, y1: 86, x2: 477, y2: 86 }, style: { stroke: BLACK, lineWidth: 1.7 } },
    { type: 'line', shape: { x1: 416, y1: 122, x2: 477, y2: 122 }, style: { stroke: BLACK, lineWidth: 1.7, lineDash: [13, 7] } },
    { type: 'line', shape: { x1: 416, y1: 157, x2: 477, y2: 157 }, style: { stroke: BLACK, lineWidth: 1.7, lineDash: [25, 12] } },
    { type: 'text', x: 622, y: 88, style: { text: '9.4 GHz', font: '30px ' + FONT, fill: BLACK, align: 'right', verticalAlign: 'middle' } },
    { type: 'text', x: 622, y: 125, style: { text: '17.0 GHz', font: '30px ' + FONT, fill: BLACK, align: 'right', verticalAlign: 'middle' } },
    { type: 'text', x: 622, y: 162, style: { text: '35.0 GHz', font: '30px ' + FONT, fill: BLACK, align: 'right', verticalAlign: 'middle' } },
    { type: 'text', x: 622, y: 654, style: { text: 'HXT + GOES data', font: '35px ' + FONT, fill: BLACK, align: 'right', verticalAlign: 'middle' } },
    { type: 'text', x: 389, y: 1296, style: { text: 'Time (UT)', font: '33px ' + FONT, fill: BLACK, align: 'center', verticalAlign: 'middle' } },
    { type: 'text', x: 28, y: 316, rotation: Math.PI / 2, style: { text: 'Flux (sfu)', font: '34px ' + FONT, fill: BLACK, align: 'center', verticalAlign: 'middle' } },
    { type: 'text', x: 43, y: 919, rotation: Math.PI / 2, style: {
        text: '{b|Counts s}{s|-1}{b| sc}{s|-1}', align: 'center', verticalAlign: 'middle',
        rich: {
          b: { fontSize: 34, fontFamily: FONT, fill: BLACK, lineHeight: 40, verticalAlign: 'middle' },
          s: { fontSize: 21, fontFamily: FONT, fill: BLACK, lineHeight: 22, verticalAlign: 'top' }
        } } }
  ]
};

const chart = echarts.init(document.getElementById('c'), null, { renderer: 'canvas', width: 642, height: 1315 });
chart.setOption(option);
</script></body></html>
